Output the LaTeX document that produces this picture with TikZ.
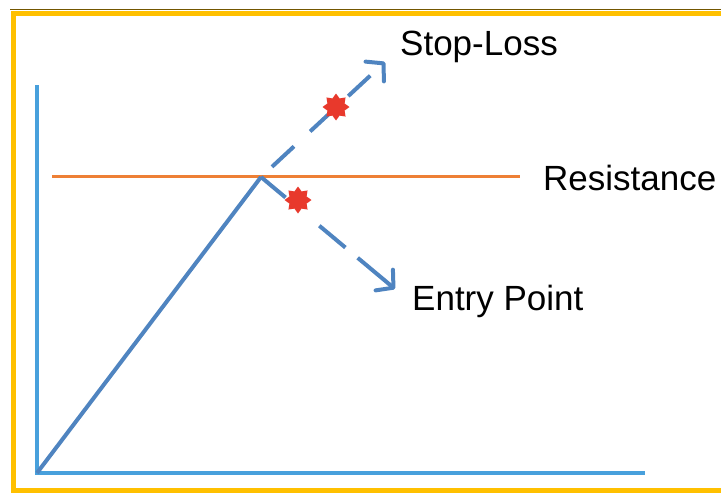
\documentclass[tikz,border=0pt]{standalone}
\usepackage{fontspec}
\setmainfont{Liberation Sans}
\usetikzlibrary{arrows.meta,shapes.geometric}

\definecolor{axisblue}{HTML}{48A0DC}
\definecolor{trendblue}{HTML}{4F84C0}
\definecolor{resorange}{HTML}{EE8035}
\definecolor{frameyellow}{HTML}{FFC000}
\definecolor{starred}{HTML}{E8392C}

\begin{document}
\begin{tikzpicture}[x=1pt,y=-1pt,
    trend/.style={trendblue, line width=4pt},
    move/.style={trend, -{Straight Barb[length=12pt,width=27pt,line width=4pt,round]}},
    burst/.style={star, star points=8, star point ratio=1.45, fill=starred, minimum size=27pt, inner sep=0pt},
    lbl/.style={font=\fontsize{35}{40}\selectfont, inner sep=0pt, anchor=base west}]
        \useasboundingbox (0,0) rectangle (721,493);

        % Frame
        \draw[frameyellow, line width=5pt] (13,13) rectangle (740,490);
        \draw[black!55!frameyellow, line width=1pt] (10,9) -- (721,9);

        % Axes
        \coordinate (origin) at (37,473);
        \coordinate (ytop) at (37,85);
        \coordinate (xend) at (645,473);
        \draw[axisblue, line width=4.5pt] (ytop) -- (origin) -- (xend);

        % Resistance level
        \coordinate (resL) at (52,176);
        \coordinate (resR) at (520,176);
        \draw[resorange, line width=3pt] (resL) -- (resR);
        \node[lbl] (resLabel) at (543,190) {Resistance};

        % Trend up to the break
        \coordinate (brk) at (261,177);
        \draw[trend] (origin) -- (brk);

        % Stop-loss move
        \coordinate (slTip) at (385,62);
        \draw[move, dash pattern=on 30pt off 22pt, dash phase=37pt] (brk) -- (slTip);
        \node[burst] (slStar) at (336,107) {};
        \node[lbl] (slLabel) at (400,55) {Stop-Loss};

        % Entry move
        \coordinate (epTip) at (395,289);
        \draw[move, dash pattern=on 32pt off 44pt on 34pt off 16pt on 60pt off 10pt] (brk) -- (epTip);
        \node[burst] (epStar) at (298,200) {};
        \node[lbl] (epLabel) at (412,310) {Entry Point};
    \end{tikzpicture}
\end{document}
